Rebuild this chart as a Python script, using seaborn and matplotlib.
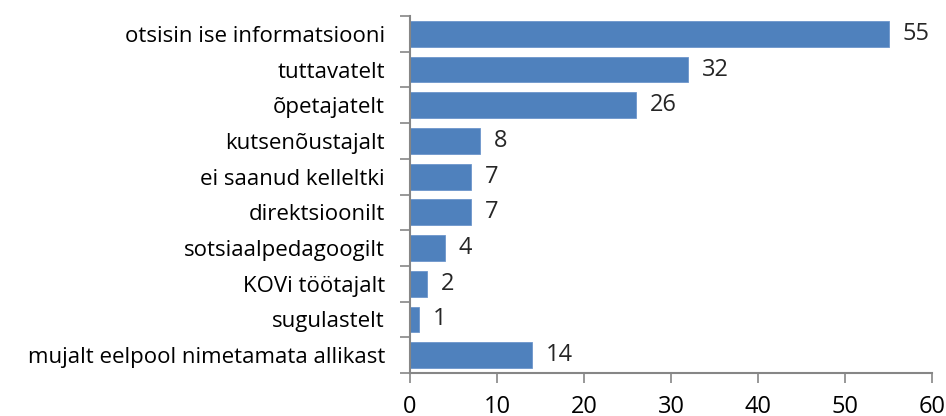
import matplotlib
matplotlib.use("Agg")
import matplotlib.pyplot as plt
import seaborn as sns
import pandas as pd
import numpy as np

categories = ["otsisin ise informatsiooni", "tuttavatelt", "õpetajatelt", "kutsenõustajalt",
              "ei saanud kelleltki", "direktsioonilt", "sotsiaalpedagoogilt", "KOVi töötajalt",
              "sugulastelt", "mujalt eelpool nimetamata allikast"]
values = [55, 32, 26, 8, 7, 7, 4, 2, 1, 14]
xticks = [0, 10, 20, 30, 40, 50, 60]

sns.set_theme(style="white")
plt.rcParams['font.family'] = ['Open Sans', 'DejaVu Sans']

df = pd.DataFrame({"cat": categories, "val": values})
fig = plt.figure(figsize=(9.46, 4.16), dpi=100)
ax = fig.add_axes([410/946, 1-373/416, (932-410)/946, (373-16)/416])
sns.barplot(data=df, y="cat", x="val", orient="h", color="#4F81BD", saturation=1,
            width=0.72, ax=ax, edgecolor="#6d96cc", linewidth=0.6)
ax.set_xlim(0, 60)
ax.set_ylim(len(categories)-0.5, -0.5)
ax.set_xticks(xticks)
ax.set_xticklabels([str(t) for t in xticks], fontsize=17)
ax.set_xlabel("")
ax.set_ylabel("")
ax.tick_params(axis="y", which="major", length=0, pad=18, labelsize=16, labelcolor="black")
ax.set_yticks(np.arange(-0.5, len(categories)), minor=True)
ax.tick_params(axis="y", which="minor", length=7, width=1.2, color="#868686", direction="out", left=True)
ax.tick_params(axis="x", length=7, width=1.2, color="#868686", direction="out", bottom=True, pad=9, labelcolor="black")
for s in ["top", "right"]:
    ax.spines[s].set_visible(False)
for s in ["left", "bottom"]:
    ax.spines[s].set_color("#868686")
    ax.spines[s].set_linewidth(1.5)
for c in ax.containers:
    ax.bar_label(c, labels=[str(v) for v in values], padding=10, fontsize=17)
fig.savefig("out.png", dpi=100)
